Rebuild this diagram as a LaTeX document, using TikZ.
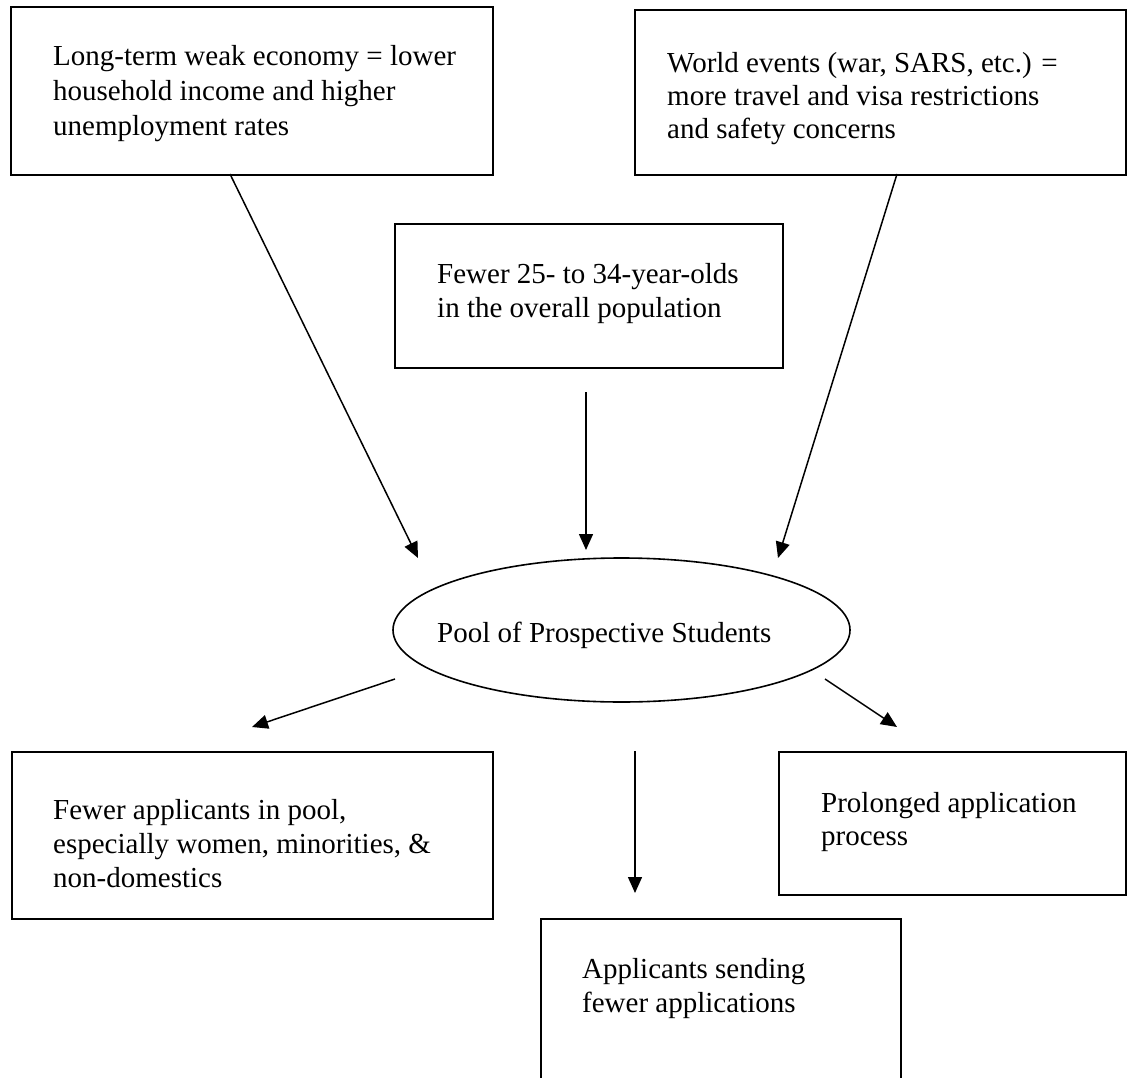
\documentclass[tikz,border=0pt]{standalone}
\usepackage{fontspec}
\setmainfont{Liberation Serif}
\usetikzlibrary{arrows.meta,shapes.geometric}
\begin{document}
\begin{tikzpicture}[x=1pt,y=-1pt,
  box/.style={draw,line width=1.6pt,rectangle,inner sep=0pt,anchor=north west},
  pool/.style={draw,line width=1.6pt,ellipse,inner sep=0pt},
  txt/.style={anchor=base west,inner sep=0pt,font=\fontsize{29}{34}\selectfont},
  arr/.style={line width=1.5pt,-{Triangle[length=16pt,width=14pt]}}]
\useasboundingbox (0,0) rectangle (1127,1078);
\fill[white] (0,0) rectangle (1127,1078);
% boxes
\node[box,minimum width=482pt,minimum height=168pt] (tl) at (10,6) {};
\node[box,minimum width=491pt,minimum height=165pt] (tr) at (634,9) {};
\node[box,minimum width=388pt,minimum height=144pt] (mid) at (394,223) {};
\node[pool,minimum width=457pt,minimum height=144pt] (pool) at (621.5,630) {};
\node[box,minimum width=481pt,minimum height=167pt] (bl) at (11,751) {};
\node[box,minimum width=347pt,minimum height=143pt] (br) at (778,751) {};
\node[box,minimum width=360pt,minimum height=200pt] (bc) at (540,918) {};
% texts
\node[txt] (tl1) at (53,66) {Long-term weak economy = lower};
\node[txt] (tl2) at (53,101) {household income and higher};
\node[txt] (tl3) at (53,136) {unemployment rates};
\node[txt] (tr1) at (667,73) {World events (war, SARS, etc.) =};
\node[txt] (tr2) at (667,106) {more travel and visa restrictions};
\node[txt] (tr3) at (667,139) {and safety concerns};
\node[txt] (m1) at (437,283) {Fewer 25- to 34-year-olds};
\node[txt] (m2) at (437,317) {in the overall population};
\node[txt] (pt) at (437,642) {Pool of Prospective Students};
\node[txt] (bl1) at (53,819) {Fewer applicants in pool,};
\node[txt] (bl2) at (53,853) {especially women, minorities, \&};
\node[txt] (bl3) at (53,887) {non-domestics};
\node[txt] (br1) at (821,812) {Prolonged application};
\node[txt] (br2) at (821,845) {process};
\node[txt] (bc1) at (582,978) {Applicants sending};
\node[txt] (bc2) at (582,1012) {fewer applications};
% connector end points
\coordinate (a1s) at (230,174);
\coordinate (a1e) at (418,558);
\coordinate (a2s) at (586,392);
\coordinate (a2e) at (586,550);
\coordinate (a3s) at (897,174);
\coordinate (a3e) at (778,558);
\coordinate (a4s) at (395,679);
\coordinate (a4e) at (252,727);
\coordinate (a5s) at (635,751);
\coordinate (a5e) at (635,893);
\coordinate (a6s) at (825,679);
\coordinate (a6e) at (897,727);
\draw[arr] (a1s) -- (a1e);
\draw[arr] (a2s) -- (a2e);
\draw[arr] (a3s) -- (a3e);
\draw[arr] (a4s) -- (a4e);
\draw[arr] (a5s) -- (a5e);
\draw[arr] (a6s) -- (a6e);
\end{tikzpicture}
\end{document}
